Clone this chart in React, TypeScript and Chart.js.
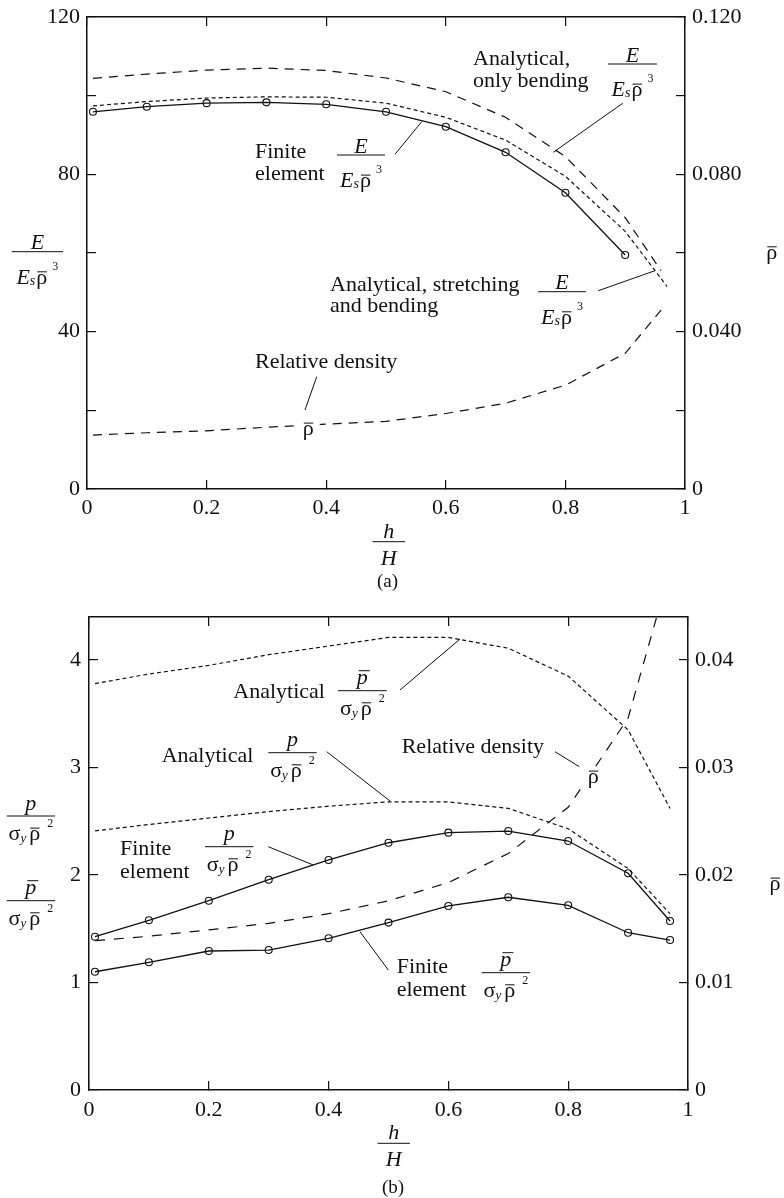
import React, { useEffect, useRef } from 'react';
import { Chart, registerables } from 'chart.js';

Chart.register(...registerables);

// ---------------- Chart (a) data ----------------
const xFeA = [0.01, 0.1, 0.2, 0.3, 0.4, 0.5, 0.6, 0.7, 0.8, 0.9];
const feModulusA = [95.9, 97.2, 98.1, 98.3, 97.8, 95.9, 92.1, 85.6, 75.3, 59.5];

const xBendA = [0.01, 0.1, 0.2, 0.3, 0.4, 0.5, 0.6, 0.7, 0.8, 0.9, 0.96];
const bendingOnlyA = [104.4, 105.5, 106.5, 107.0, 106.4, 104.5, 101.0, 94.5, 84.5, 69.0, 55.5];

const xStretchA = [0.01, 0.1, 0.2, 0.3, 0.4, 0.5, 0.6, 0.7, 0.8, 0.9, 0.97];
const stretchBendA = [97.4, 98.5, 99.4, 99.7, 99.6, 98.1, 94.5, 88.7, 79.5, 65.5, 51.5];

const xDensA = [0.01, 0.1, 0.2, 0.3, 0.4, 0.5, 0.6, 0.7, 0.8, 0.9, 0.96];
const densityA = [0.0137, 0.0143, 0.0148, 0.0157, 0.0165, 0.0172, 0.0192, 0.0218, 0.0264, 0.0345, 0.0455];

const xTicks = [0, 0.2, 0.4, 0.6, 0.8, 1];
const xTickLabels = ['0', '0.2', '0.4', '0.6', '0.8', '1'];

const yTicksA = [0, 20, 40, 60, 80, 100, 120];
const yTickLabelsA = ['0', '', '40', '', '80', '', '120'];
const y2TicksA = [0, 0.02, 0.04, 0.06, 0.08, 0.1, 0.12];
const y2TickLabelsA = ['0', '', '0.040', '', '0.080', '', '0.120'];

// ---------------- Chart (b) data ----------------
const xB = [0.01, 0.1, 0.2, 0.3, 0.4, 0.5, 0.6, 0.7, 0.8, 0.9, 0.97];
const feStrengthB = [1.426, 1.579, 1.761, 1.956, 2.14, 2.30, 2.394, 2.409, 2.316, 2.016, 1.572];
const feBarStrengthB = [1.10, 1.188, 1.293, 1.302, 1.411, 1.557, 1.712, 1.793, 1.718, 1.463, 1.395];
const anaStrengthB = [2.41, 2.47, 2.53, 2.59, 2.64, 2.68, 2.68, 2.62, 2.43, 2.06, 1.64];
const anaBarStrengthB = [3.78, 3.87, 3.95, 4.05, 4.13, 4.21, 4.21, 4.11, 3.85, 3.35, 2.62];
const densityB = [0.0139, 0.0143, 0.0149, 0.0155, 0.0164, 0.0176, 0.0193, 0.0220, 0.0263, 0.0346, 0.0484];

const yTicksB = [0, 1, 2, 3, 4];
const yTickLabelsB = ['0', '1', '2', '3', '4'];
const y2TicksB = [0, 0.01, 0.02, 0.03, 0.04];
const y2TickLabelsB = ['0', '0.01', '0.02', '0.03', '0.04'];

// ---------------- styling helpers ----------------
const SERIF = '"Liberation Serif", "Times New Roman", Times, serif';
const INK = '#111';
const TICK_FONT = { family: SERIF, size: 22 };

const pts = (xs: number[], ys: number[]) => xs.map((x, i) => ({ x, y: ys[i] }));

function xAxis(pos: string, labels: boolean, size: number, padding: number) {
  return {
    type: 'linear',
    position: pos,
    min: 0,
    max: 1,
    afterBuildTicks: (s: any) => { s.ticks = xTicks.map((v) => ({ value: v })); },
    afterFit: (s: any) => {
      s.height = size;
      s.paddingLeft = 0;
      s.paddingRight = 0;
      s.paddingTop = 0;
      s.paddingBottom = 0;
    },
    ticks: {
      display: labels,
      callback: (_v: any, i: number) => xTickLabels[i],
      font: TICK_FONT, color: INK, padding, autoSkip: false, maxRotation: 0, minRotation: 0,
    },
    grid: { drawOnChartArea: false, drawTicks: true, tickLength: -9, color: INK, lineWidth: 1.2 },
    border: { display: true, color: INK, width: 1.5 },
  };
}

function yAxis(pos: string, min: number, max: number, vals: number[], labels: string[], size: number, padding: number) {
  return {
    type: 'linear',
    position: pos,
    min,
    max,
    afterBuildTicks: (s: any) => { s.ticks = vals.map((v) => ({ value: v })); },
    afterFit: (s: any) => {
      s.width = size;
      s.paddingTop = 0;
      s.paddingBottom = 0;
      s.paddingLeft = 0;
      s.paddingRight = 0;
    },
    ticks: {
      callback: (_v: any, i: number) => labels[i],
      font: TICK_FONT, color: INK, padding, autoSkip: false,
    },
    grid: { drawOnChartArea: false, drawTicks: true, tickLength: -9, color: INK, lineWidth: 1.2 },
    border: { display: true, color: INK, width: 1.5 },
  };
}

const solidWithMarkers = {
  borderColor: INK, borderWidth: 1.3, pointRadius: 3.5, pointStyle: 'circle',
  pointBorderColor: INK, pointBackgroundColor: 'rgba(0,0,0,0)', pointBorderWidth: 1.1,
  tension: 0, fill: false,
};
const shortDash = { borderColor: INK, borderWidth: 1.2, borderDash: [4, 3], pointRadius: 0, tension: 0, fill: false };
const longDash = { borderColor: INK, borderWidth: 1.2, borderDash: [9, 7], pointRadius: 0, tension: 0, fill: false };

// ---------------- text drawing helpers ----------------
type Ctx = CanvasRenderingContext2D;
function setFont(ctx: Ctx, size: number, italic = false) {
  ctx.font = `${italic ? 'italic ' : ''}${size}px ${SERIF}`;
}
function seg(ctx: Ctx, x1: number, y1: number, x2: number, y2: number, w = 1) {
  ctx.beginPath();
  ctx.lineWidth = w;
  ctx.setLineDash([]);
  ctx.moveTo(x1, y1);
  ctx.lineTo(x2, y2);
  ctx.stroke();
}
function txt(ctx: Ctx, s: string, x: number, y: number, align: CanvasTextAlign = 'left', size = 22, italic = false) {
  setFont(ctx, size, italic);
  ctx.textAlign = align;
  ctx.textBaseline = 'alphabetic';
  ctx.fillText(s, x, y);
}
function width(ctx: Ctx, s: string, size: number, italic = false) {
  setFont(ctx, size, italic);
  return ctx.measureText(s).width;
}
function rhoBar(ctx: Ctx, x: number, base: number, size = 22) {
  const w = width(ctx, 'ρ', size);
  txt(ctx, 'ρ', x, base, 'left', size);
  const by = base - size * 0.45 - 2;
  seg(ctx, x + 1, by, x + w - 0.5, by, 1);
  return w;
}
function rhoCentered(ctx: Ctx, cx: number, base: number, mask = false) {
  const w = width(ctx, 'ρ', 22);
  if (mask) {
    ctx.fillStyle = '#fff';
    ctx.fillRect(cx - w / 2 - 6, base - 16, w + 12, 22);
    ctx.fillStyle = INK;
  }
  rhoBar(ctx, cx - w / 2, base);
}
function fracE(ctx: Ctx, x1: number, x2: number, ly: number) {
  seg(ctx, x1, ly, x2, ly, 1);
  const cx = (x1 + x2) / 2;
  txt(ctx, 'E', cx, ly - 2.5, 'center', 22, true);
  const wE = width(ctx, 'E', 22, true);
  const ws = width(ctx, 's', 14, true);
  const wr = width(ctx, 'ρ', 22);
  const w3 = width(ctx, '3', 12);
  const total = wE + ws + 1 + wr + 5 + w3;
  let x = cx - total / 2;
  const b = ly + 32;
  txt(ctx, 'E', x, b, 'left', 22, true); x += wE;
  txt(ctx, 's', x, b + 1, 'left', 14, true); x += ws + 1;
  rhoBar(ctx, x, b); x += wr + 5;
  txt(ctx, '3', x, b - 14, 'left', 12);
}
function fracP(ctx: Ctx, x1: number, x2: number, ly: number, bar: boolean) {
  seg(ctx, x1, ly, x2, ly, 1);
  const cx = (x1 + x2) / 2;
  const pb = ly - 6.5;
  txt(ctx, 'p', cx, pb, 'center', 22, true);
  if (bar) {
    const wp = width(ctx, 'p', 22, true);
    const by = pb - 13.5;
    seg(ctx, cx - wp / 2 + 2, by, cx + wp / 2 + 2, by, 1);
  }
  const wsg = width(ctx, 'σ', 22);
  const wy = width(ctx, 'y', 13, true);
  const wr = width(ctx, 'ρ', 22);
  const w2 = width(ctx, '2', 12);
  const total = wsg + wy + 3 + wr + 7 + w2;
  let x = cx - total / 2;
  const b = ly + 24;
  txt(ctx, 'σ', x, b, 'left', 22); x += wsg;
  txt(ctx, 'y', x, b + 2, 'left', 13, true); x += wy + 3;
  rhoBar(ctx, x, b); x += wr + 7;
  txt(ctx, '2', x, b - 13, 'left', 12);
}
function fracHH(ctx: Ctx, x1: number, x2: number, ly: number) {
  seg(ctx, x1, ly, x2, ly, 1);
  const cx = (x1 + x2) / 2;
  txt(ctx, 'h', cx, ly - 4, 'center', 22, true);
  txt(ctx, 'H', cx, ly + 23, 'center', 22, true);
}

function drawAnnotationsA(ctx: Ctx) {
  // axis titles
  fracE(ctx, 11.7, 63, 251.7);
  rhoCentered(ctx, 771.7, 258.7);
  fracHH(ctx, 372.5, 405, 541.7);
  txt(ctx, '(a)', 387.5, 587, 'center', 19);

  // Analytical, only bending
  txt(ctx, 'Analytical,', 473, 64.5);
  txt(ctx, 'only bending', 473, 86.5);
  fracE(ctx, 608, 657, 64);
  seg(ctx, 622.7, 103.3, 553.3, 152.3);

  // Finite element
  txt(ctx, 'Finite', 255, 158.3);
  txt(ctx, 'element', 255, 180);
  fracE(ctx, 337, 385, 155);
  seg(ctx, 395, 154.3, 421.7, 121.7);

  // Analytical, stretching and bending
  txt(ctx, 'Analytical, stretching', 330, 290.7);
  txt(ctx, 'and bending', 330, 312);
  fracE(ctx, 538, 586, 291.7);
  seg(ctx, 598.3, 290.7, 655, 270.7);

  // Relative density
  txt(ctx, 'Relative density', 255, 368);
  seg(ctx, 316.7, 376.7, 305, 410);
  rhoCentered(ctx, 308.3, 435, true);
}

function drawAnnotationsB(ctx: Ctx) {
  // axis titles
  fracP(ctx, 6.7, 55, 816, false);
  fracP(ctx, 6.7, 55, 900.7, true);
  rhoCentered(ctx, 775, 890);
  fracHH(ctx, 377.5, 410, 1143.3);
  txt(ctx, '(b)', 393, 1193, 'center', 19);

  // Analytical p-bar
  txt(ctx, 'Analytical', 233.3, 698.3);
  fracP(ctx, 338, 386.7, 690.7, true);
  seg(ctx, 400, 690, 460, 639);

  // Analytical p
  txt(ctx, 'Analytical', 161.7, 761.7);
  fracP(ctx, 268.3, 316.7, 752.7, false);
  seg(ctx, 326.7, 751.7, 390, 801);

  // Relative density
  txt(ctx, 'Relative density', 401.7, 753.3);
  seg(ctx, 555, 751.7, 579.3, 766.7);
  rhoCentered(ctx, 593.3, 783, true);

  // Finite element p
  txt(ctx, 'Finite', 120, 855);
  txt(ctx, 'element', 120, 878.3);
  fracP(ctx, 205, 253.3, 846.7, false);
  seg(ctx, 268.3, 846.7, 313.3, 865);

  // Finite element p-bar
  txt(ctx, 'Finite', 396.7, 973.3);
  txt(ctx, 'element', 396.7, 995.7);
  fracP(ctx, 481.7, 530, 972.7, true);
  seg(ctx, 360, 931.7, 388.3, 970);
}

function annotationPlugin(id: string, offsetY: number, draw: (ctx: Ctx) => void) {
  return {
    id,
    afterDraw(chart: any) {
      const ctx: Ctx = chart.ctx;
      ctx.save();
      ctx.translate(0, -offsetY);
      ctx.fillStyle = INK;
      ctx.strokeStyle = INK;
      draw(ctx);
      ctx.restore();
    },
  };
}

const TOP_B = 595;

function configA(): any {
  return {
    type: 'line',
    data: {
      datasets: [
        { ...longDash, data: pts(xBendA, bendingOnlyA), xAxisID: 'x', yAxisID: 'y' },
        { ...shortDash, data: pts(xStretchA, stretchBendA), xAxisID: 'x', yAxisID: 'y' },
        { ...solidWithMarkers, data: pts(xFeA, feModulusA), xAxisID: 'x', yAxisID: 'y' },
        { ...longDash, data: pts(xDensA, densityA), xAxisID: 'x', yAxisID: 'y2' },
      ],
    },
    options: {
      animation: false,
      responsive: false,
      devicePixelRatio: 1,
      events: [],
      layout: { padding: 0 },
      plugins: { legend: { display: false }, tooltip: { enabled: false }, title: { display: false } },
      scales: {
        x: xAxis('bottom', true, 106, 15),
        xTop: { ...xAxis('top', false, 17, 0), axis: 'x' },
        y: yAxis('left', 0, 120, yTicksA, yTickLabelsA, 87, 16),
        y2: { ...yAxis('right', 0, 0.12, y2TicksA, y2TickLabelsA, 99, 16), axis: 'y' },
      },
    },
    plugins: [annotationPlugin('annotA', 0, drawAnnotationsA)],
  };
}

function configB(): any {
  return {
    type: 'line',
    data: {
      datasets: [
        { ...shortDash, data: pts(xB, anaBarStrengthB), xAxisID: 'x', yAxisID: 'y' },
        { ...shortDash, data: pts(xB, anaStrengthB), xAxisID: 'x', yAxisID: 'y' },
        { ...solidWithMarkers, data: pts(xB, feStrengthB), xAxisID: 'x', yAxisID: 'y' },
        { ...solidWithMarkers, data: pts(xB, feBarStrengthB), xAxisID: 'x', yAxisID: 'y' },
        { ...longDash, borderDash: [10, 9], data: pts(xB, densityB), xAxisID: 'x', yAxisID: 'y2' },
      ],
    },
    options: {
      animation: false,
      responsive: false,
      devicePixelRatio: 1,
      events: [],
      layout: { padding: 0 },
      plugins: { legend: { display: false }, tooltip: { enabled: false }, title: { display: false } },
      scales: {
        x: xAxis('bottom', true, 108, 16),
        xTop: { ...xAxis('top', false, 22, 0), axis: 'x' },
        y: yAxis('left', 0, 4.4, yTicksB, yTickLabelsB, 89, 17),
        y2: { ...yAxis('right', 0, 0.044, y2TicksB, y2TickLabelsB, 96, 16), axis: 'y' },
      },
    },
    plugins: [annotationPlugin('annotB', TOP_B, drawAnnotationsB)],
  };
}

export default function App() {
  const refA = useRef<HTMLCanvasElement>(null);
  const refB = useRef<HTMLCanvasElement>(null);
  useEffect(() => {
    const a = new Chart(refA.current as HTMLCanvasElement, configA());
    const b = new Chart(refB.current as HTMLCanvasElement, configB());
    return () => {
      a.destroy();
      b.destroy();
    };
  }, []);
  return (
    <div style={{ position: 'absolute', left: 0, top: 0, width: 784, height: 1198, background: '#fff' }}>
      <canvas
        ref={refA}
        width={784}
        height={595}
        style={{ position: 'absolute', left: 0, top: 0, width: 784, height: 595 }}
      />
      <canvas
        ref={refB}
        width={784}
        height={603}
        style={{ position: 'absolute', left: 0, top: TOP_B, width: 784, height: 603 }}
      />
    </div>
  );
}
